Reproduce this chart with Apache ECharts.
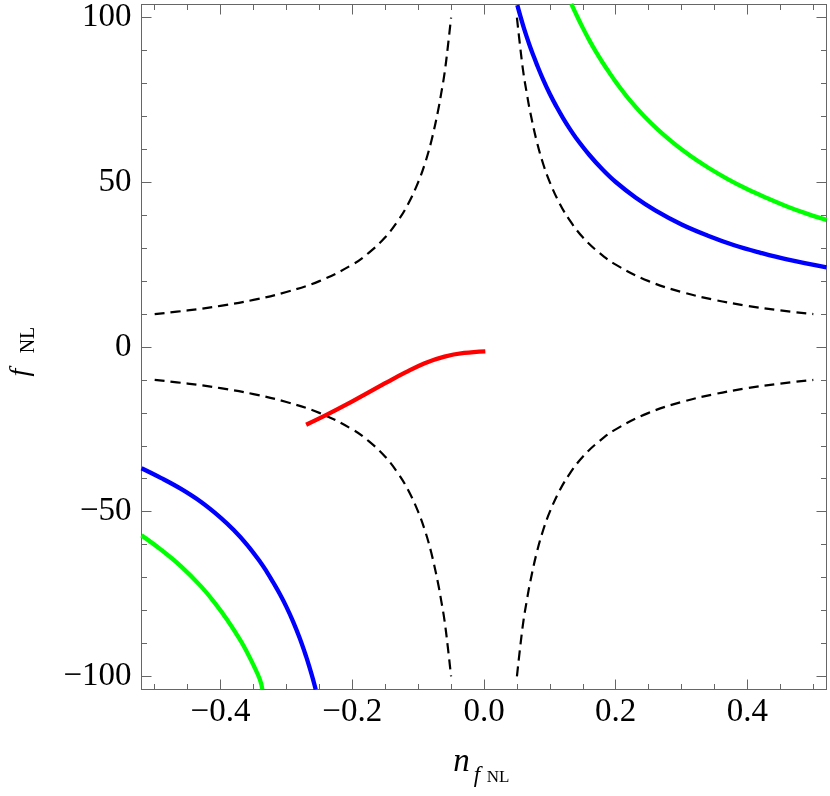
<!DOCTYPE html>
<html>
<head>
<meta charset="utf-8">
<script src="https://cdn.jsdelivr.net/npm/echarts@6/dist/echarts.min.js"></script>
<style>
  html, body { margin: 0; padding: 0; background: #fff; }
  #main { width: 830px; height: 796px; }
</style>
</head>
<body>
<div id="main"></div>
<script>
// axis ranges and ticks
var xMin = -0.52, xMax = 0.52;
var yMin = -104, yMax = 104;
var xMajor = [-0.4, -0.2, 0, 0.2, 0.4];
var xMinor = [-0.5, -0.45, -0.35, -0.3, -0.25, -0.15, -0.1, -0.05, 0.05, 0.1, 0.15, 0.25, 0.3, 0.35, 0.45, 0.5];
var yMajor = [-100, -50, 0, 50, 100];
var yMinor = [-90, -80, -70, -60, -40, -30, -20, -10, 10, 20, 30, 40, 60, 70, 80, 90];

// dashed black branches [n, fNL]
var dashUpRight = [[0.05, 100], [0.055, 91], [0.06, 83], [0.065, 77], [0.07, 71.5], [0.08, 62.5], [0.09, 55.5], [0.1, 50], [0.115, 43.5], [0.13, 38.5], [0.15, 33.3], [0.175, 28.6], [0.2, 25], [0.25, 20], [0.3, 16.7], [0.35, 14.3], [0.4, 12.5], [0.45, 11.1], [0.5, 10]];
var dashUpLeft = [[-0.5, 10], [-0.45, 11.1], [-0.4, 12.5], [-0.35, 14.3], [-0.3, 16.7], [-0.25, 20], [-0.2, 25], [-0.175, 28.6], [-0.15, 33.3], [-0.13, 38.5], [-0.115, 43.5], [-0.1, 50], [-0.09, 55.5], [-0.08, 62.5], [-0.07, 71.5], [-0.065, 77], [-0.06, 83], [-0.055, 91], [-0.05, 100]];
var dashLowLeft = [[-0.5, -10], [-0.45, -11.1], [-0.4, -12.5], [-0.35, -14.3], [-0.3, -16.7], [-0.25, -20], [-0.2, -25], [-0.175, -28.6], [-0.15, -33.3], [-0.13, -38.5], [-0.115, -43.5], [-0.1, -50], [-0.09, -55.5], [-0.08, -62.5], [-0.07, -71.5], [-0.065, -77], [-0.06, -83], [-0.055, -91], [-0.05, -100]];
var dashLowRight = [[0.05, -100], [0.055, -91], [0.06, -83], [0.065, -77], [0.07, -71.5], [0.08, -62.5], [0.09, -55.5], [0.1, -50], [0.115, -43.5], [0.13, -38.5], [0.15, -33.3], [0.175, -28.6], [0.2, -25], [0.25, -20], [0.3, -16.7], [0.35, -14.3], [0.4, -12.5], [0.45, -11.1], [0.5, -10]];

// blue and green contours
var blueUp = [[0.0506, 103.8], [0.055, 100.6], [0.06, 97.2], [0.065, 94.1], [0.07, 91.2], [0.075, 88.5], [0.08, 85.9], [0.09, 81.1], [0.1, 76.8], [0.11, 73.0], [0.12, 69.5], [0.13, 66.3], [0.14, 63.4], [0.16, 58.3], [0.18, 53.9], [0.2, 50.1], [0.23, 45.4], [0.26, 41.5], [0.3, 37.2], [0.34, 33.8], [0.38, 30.9], [0.42, 28.6], [0.46, 26.6], [0.52, 24.2]];
var blueLow = [[-0.52, -36.8], [-0.49, -39.8], [-0.46, -43.1], [-0.43, -47.0], [-0.4, -51.8], [-0.38, -55.6], [-0.36, -60.0], [-0.34, -65.2], [-0.33, -68.2], [-0.32, -71.5], [-0.31, -75.0], [-0.3, -78.9], [-0.29, -83.3], [-0.28, -88.3], [-0.27, -94.0], [-0.265, -97.2], [-0.26, -100.6], [-0.2555, -104]];
var greenUp = [[0.1326, 104.2], [0.14, 101.0], [0.15, 96.9], [0.16, 93.1], [0.17, 89.6], [0.18, 86.4], [0.19, 83.4], [0.2, 80.5], [0.22, 75.3], [0.25, 68.7], [0.28, 63.2], [0.31, 58.5], [0.34, 54.5], [0.37, 51.0], [0.4, 47.9], [0.43, 45.2], [0.46, 42.7], [0.49, 40.5], [0.52, 38.6]];
var greenLow = [[-0.52, -57.2], [-0.49, -61.6], [-0.46, -66.6], [-0.43, -72.6], [-0.41, -77.4], [-0.39, -82.8], [-0.37, -89.0], [-0.36, -92.6], [-0.35, -96.6], [-0.34, -101.1], [-0.3365, -104]];

// red curve
var redCurve = [[-0.27, -23.6], [-0.24, -20.7], [-0.21, -17.6], [-0.18, -14.3], [-0.15, -11.0], [-0.12, -7.8], [-0.09, -4.9], [-0.06, -2.9], [-0.03, -1.8], [0.002, -1.3]];

var serif = 'Liberation Serif';
var frameColor = '#666';

function xFmt(v) { return (v < 0 ? '\u2212' : '') + Math.abs(v).toFixed(1); }
function yFmt(v) { return (v < 0 ? '\u2212' : '') + Math.abs(v); }

function xAx(pos, ticks, len, labels) {
  return {
    type: 'value', position: pos, min: xMin, max: xMax,
    axisLine: { show: true, onZero: false, lineStyle: { color: frameColor, width: 1 } },
    axisTick: { show: true, inside: true, length: len, customValues: ticks, lineStyle: { color: frameColor } },
    axisLabel: labels ? { show: true, customValues: ticks, formatter: xFmt, margin: 6, color: '#000', fontFamily: serif, fontSize: 33 } : { show: false },
    splitLine: { show: false }
  };
}
function yAx(pos, ticks, len, labels) {
  return {
    type: 'value', position: pos, min: yMin, max: yMax,
    axisLine: { show: true, onZero: false, lineStyle: { color: frameColor, width: 1 } },
    axisTick: { show: true, inside: true, length: len, customValues: ticks, lineStyle: { color: frameColor } },
    axisLabel: labels ? { show: true, customValues: ticks, formatter: yFmt, margin: 10, color: '#000', fontFamily: serif, fontSize: 33 } : { show: false },
    splitLine: { show: false }
  };
}

function line(data, color, width, dashed) {
  return {
    type: 'line', data: data, showSymbol: false, smooth: 0.4, clip: true,
    xAxisIndex: 0, yAxisIndex: 0,
    lineStyle: { color: color, width: width, type: dashed ? [10, 6] : 'solid', cap: 'butt', join: 'round' },
    z: dashed ? 2 : 3
  };
}

function label(text, x, y, size, italic, rot) {
  return {
    type: 'text', x: x, y: y, rotation: rot || 0,
    style: {
      text: text, fill: '#000', fontFamily: serif, fontSize: size,
      fontStyle: italic ? 'italic' : 'normal', align: 'center', verticalAlign: 'middle'
    }
  };
}

var chart = echarts.init(document.getElementById('main'), null, { renderer: 'canvas' });

var option = {
  animation: false,
  backgroundColor: '#fff',
  grid: { left: 141.5, right: 3.5, top: 4.5, bottom: 106.5, containLabel: false },
  xAxis: [
    xAx('bottom', xMajor, 10, true),
    xAx('bottom', xMinor, 5.5, false),
    xAx('top', xMajor, 10, false),
    xAx('top', xMinor, 5.5, false)
  ],
  yAxis: [
    yAx('left', yMajor, 10, true),
    yAx('left', yMinor, 5.5, false),
    yAx('right', yMajor, 10, false),
    yAx('right', yMinor, 5.5, false)
  ],
  series: [
    line(dashUpRight, '#000', 2.2, true),
    line(dashUpLeft, '#000', 2.2, true),
    line(dashLowLeft, '#000', 2.2, true),
    line(dashLowRight, '#000', 2.2, true),
    line(blueUp, '#0000ff', 4.3, false),
    line(blueLow, '#0000ff', 4.3, false),
    line(greenUp, '#00ff00', 4.3, false),
    line(greenLow, '#00ff00', 4.3, false),
    line(redCurve, '#ff0000', 4.3, false)
  ],
  graphic: [
    // x axis title: n with subscript f_NL
    label('n', 461.5, 762, 33, true),
    label('f', 477, 776, 23, true),
    label('NL', 498, 778, 17, false),
    // y axis title: f_NL, reading upward
    label('f', 21, 372.5, 28, true, Math.PI / 2),
    label('NL', 28.5, 340, 20, false, Math.PI / 2)
  ]
};

chart.setOption(option);
</script>
</body>
</html>
